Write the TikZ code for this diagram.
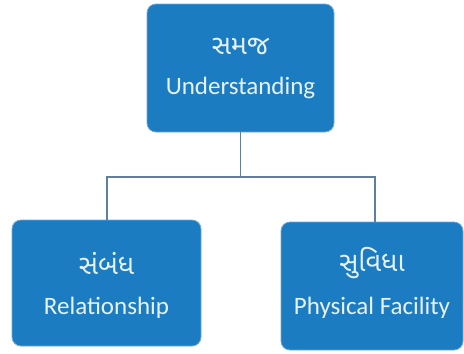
\documentclass[tikz,border=0pt]{standalone}
\usepackage{fontspec}
\setmainfont{Carlito}
\newfontfamily\guj[Script=Gujarati]{Noto Sans Gujarati UI}
\definecolor{boxblue}{HTML}{1B7CC1}
\definecolor{boxedge}{HTML}{6FA9D6}
\definecolor{txt}{HTML}{E6F2FA}
\definecolor{linec}{HTML}{5F7F9C}
\begin{document}
\begin{tikzpicture}[x=1pt,y=-1pt,
  box/.style={draw=boxedge,line width=0.8pt,fill=boxblue,rounded corners=9pt},
  gt/.style={text=txt,font=\guj\fontsize{27}{30}\selectfont,inner sep=0pt},
  et/.style={text=txt,font=\fontsize{25}{28}\selectfont,inner sep=0pt},
  conn/.style={draw=linec,line width=1.3pt}]
\useasboundingbox (0,0) rectangle (464,354);
\path[box] (147,4) rectangle (334,132);
\path[box] (12,220) rectangle (201,346);
\path[box] (281,222) rectangle (463,350);
\node[gt] (t1) at (240.5,46) {સમજ};
\node[et] (t2) at (240.5,88) {Understanding};
\node[gt] (l1) at (106.5,263) {સંબંધ};
\node[et] (l2) at (106.5,308) {Relationship};
\node[gt] (r1) at (372,263) {સુવિધા};
\node[et] (r2) at (372,308) {Physical Facility};
\coordinate (top) at (240.5,132);
\coordinate (mid) at (240.5,177);
\coordinate (lt) at (107,220);
\coordinate (rt) at (375,222);
\draw[conn] (top) -- (mid);
\draw[conn] (lt) |- (mid) -| (rt);
\end{tikzpicture}
\end{document}
